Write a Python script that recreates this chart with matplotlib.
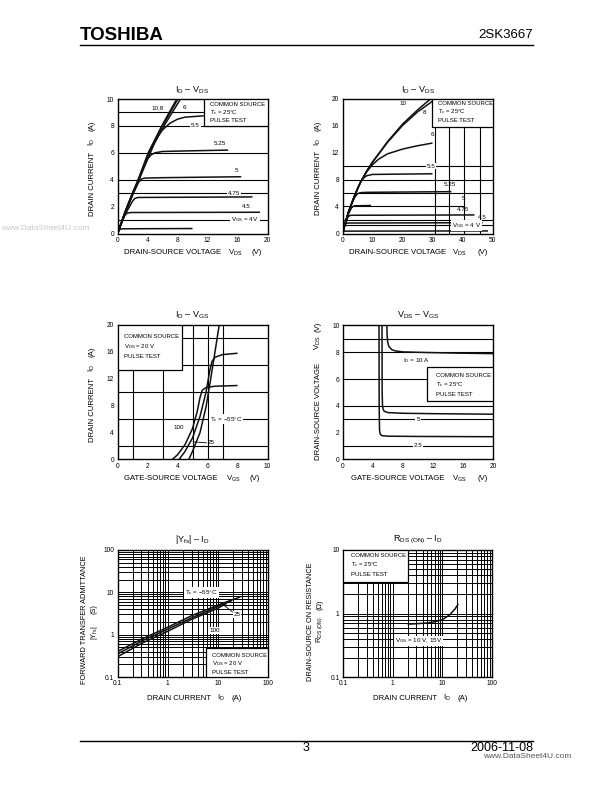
import matplotlib
matplotlib.use('Agg')
import matplotlib.pyplot as plt
from matplotlib.patches import Rectangle
from matplotlib.ticker import NullFormatter, LogLocator

plt.rcParams['font.family'] = ['Liberation Sans', 'DejaVu Sans']
plt.rcParams['mathtext.fontset'] = 'custom'
plt.rcParams['mathtext.rm'] = 'Liberation Sans'
plt.rcParams['mathtext.it'] = 'Liberation Sans:italic'
plt.rcParams['mathtext.bf'] = 'Liberation Sans:bold'

W, H = 612, 792

# ---- ID - VDS (0..20 V) ----
c1_x_10 = [0, 1, 2, 2.75, 4.1, 5.9, 7.9]
c1_y_10 = [0, 1.6, 3.0, 4.0, 6.0, 8.0, 10.0]
c1_x_8 = [0, 1, 2, 2.8, 4.15, 6.0, 8.05]
c1_y_8 = [0, 1.6, 3.0, 4.0, 6.0, 8.0, 10.0]
c1_x_6 = [0, 1, 2, 2.8, 4.2, 6.2, 8.4]
c1_y_6 = [0, 1.55, 2.95, 4.0, 6.0, 8.0, 10.0]
c1_x_55 = [0, 1, 2, 2.8, 4.3, 5.0, 5.5, 6, 7, 8, 9, 11.5]
c1_y_55 = [0, 1.5, 2.9, 3.9, 5.9, 6.8, 7.3, 7.7, 8.2, 8.5, 8.65, 8.75]
c1_x_525 = [0, 1, 2, 2.8, 3.5, 4.0, 4.5, 5.0, 6.0, 10, 14.75]
c1_y_525 = [0, 1.5, 2.9, 3.9, 5.0, 5.55, 5.85, 6.0, 6.1, 6.15, 6.2]
c1_x_5 = [0, 1, 2, 2.8, 3.2, 3.6, 6, 16.5]
c1_y_5 = [0, 1.5, 2.85, 3.8, 4.05, 4.12, 4.15, 4.22]
c1_x_475 = [0, 1, 2, 2.3, 2.7, 18]
c1_y_475 = [0, 1.4, 2.4, 2.6, 2.68, 2.72]
c1_x_45 = [0, 0.7, 1.0, 1.3, 1.8, 19]
c1_y_45 = [0, 1.05, 1.38, 1.52, 1.56, 1.58]
c1_x_4 = [0, 0.3, 0.6, 10]
c1_y_4 = [0, 0.3, 0.35, 0.37]
c1_xticks = [0, 4, 8, 12, 16, 20]
c1_yticks = [0, 2, 4, 6, 8, 10]

# ---- ID - VDS (0..50 V) ----
c2_x_10 = [0, 1, 2, 4, 6, 8, 10, 15, 20, 25, 29.5]
c2_y_10 = [0, 1.7, 3.2, 5.6, 7.6, 9.2, 10.6, 13.6, 16.2, 18.3, 20.0]
c2_x_8 = [0, 1, 2, 4, 6, 8, 10, 15, 20, 25, 30]
c2_y_8 = [0, 1.7, 3.2, 5.6, 7.6, 9.2, 10.55, 13.5, 16.0, 18.0, 19.6]
c2_x_6 = [0, 1, 2, 4, 6, 8, 10, 12, 15, 20, 25, 30]
c2_y_6 = [0, 1.7, 3.2, 5.6, 7.6, 9.1, 10.2, 11.0, 11.8, 12.5, 13.0, 13.4]
c2_x_55 = [0, 1, 2, 4, 5, 6, 7, 8, 10, 30]
c2_y_55 = [0, 1.7, 3.2, 5.5, 6.6, 7.6, 8.2, 8.55, 8.75, 8.85]
c2_x_525 = [0, 1, 2, 3, 4, 5, 6, 8, 36.3]
c2_y_525 = [0, 1.7, 3.1, 4.3, 5.3, 5.9, 6.05, 6.1, 6.2]
c2_x_5 = [0, 1, 2, 3, 3.5, 4, 9.5]
c2_y_5 = [0, 1.6, 2.9, 3.8, 4.0, 4.1, 4.15]
c2_x_475 = [0, 1, 1.8, 2.3, 3, 44]
c2_y_475 = [0, 1.5, 2.4, 2.65, 2.7, 2.75]
c2_x_45 = [0, 0.6, 1.0, 1.4, 2, 46.7]
c2_y_45 = [0, 1.0, 1.4, 1.52, 1.55, 1.6]
c2_x_4 = [0, 0.3, 0.6, 1, 48.5]
c2_y_4 = [0, 0.25, 0.33, 0.35, 0.38]
c2_xticks = [0, 10, 20, 30, 40, 50]
c2_yticks = [0, 4, 8, 12, 16, 20]

# ---- ID - VGS ----
c3_x_100 = [3.65, 4.0, 4.5, 5.0, 5.3, 5.5, 5.65, 5.9, 6.5, 8]
c3_y_100 = [0, 0.7, 2.2, 4.6, 7.0, 9.2, 10.3, 10.7, 10.9, 11.0]
c3_x_25 = [4.1, 4.5, 5.0, 5.5, 5.9, 6.15, 6.3, 6.5, 7, 8]
c3_y_25 = [0, 1.2, 3.2, 6.4, 10.0, 13.2, 14.6, 15.2, 15.6, 15.8]
c3_x_m55 = [4.75, 5.0, 5.5, 5.9, 6.2, 6.5, 6.78]
c3_y_m55 = [0, 1.2, 4.0, 7.8, 11.8, 16.0, 20.0]
c3_xticks = [0, 2, 4, 6, 8, 10]
c3_yticks = [0, 4, 8, 12, 16, 20]

# ---- VDS - VGS ----
c4_x_10 = [5.85, 5.88, 5.95, 6.1, 6.5, 7, 8, 10, 14, 20]
c4_y_10 = [10, 9.3, 8.8, 8.45, 8.2, 8.1, 8.03, 8.0, 7.95, 7.9]
c4_x_5 = [5.2, 5.22, 5.27, 5.35, 5.5, 6, 8, 12, 20]
c4_y_5 = [10, 5.0, 4.0, 3.75, 3.6, 3.5, 3.45, 3.42, 3.38]
c4_x_25 = [4.8, 4.82, 4.87, 4.95, 5.2, 6, 10, 20]
c4_y_25 = [10, 4.0, 2.2, 1.9, 1.78, 1.74, 1.72, 1.7]
c4_xticks = [0, 4, 8, 12, 16, 20]
c4_yticks = [0, 2, 4, 6, 8, 10]

# ---- |Yfs| - ID ----
c5_x_m55 = [0.1, 0.3, 1, 3, 10, 28]
c5_y_m55 = [0.40, 0.78, 1.5, 2.8, 5.0, 7.8]
c5_x_25 = [0.1, 0.3, 1, 3, 10, 19]
c5_y_25 = [0.35, 0.70, 1.35, 2.5, 4.6, 6.4]
c5_x_100 = [0.1, 0.3, 1, 3, 10, 15]
c5_y_100 = [0.30, 0.62, 1.2, 2.3, 4.2, 5.5]
log_xticks = [0.1, 1, 10, 100]
log_xlabels = ['0.1', '1', '10', '100']
c5_yticks = [0.1, 1, 10, 100]
c5_ylabels = ['0.1', '1', '10', '100']

# ---- RDS(ON) - ID ----
c6_x = [2, 3, 5, 7, 10, 14, 18, 21]
c6_y = [0.68, 0.69, 0.71, 0.74, 0.80, 0.95, 1.18, 1.42]
c6_yticks = [0.1, 1, 10]
c6_ylabels = ['0.1', '1', '10']

fig = plt.figure(figsize=(W / 100, H / 100), dpi=100)
fig.patch.set_facecolor('white')


def px_axes(l, t, r, b):
    return fig.add_axes([l / W, 1 - b / H, (r - l) / W, (b - t) / H])


def ftext(x, y, s, **kw):
    fig.text(x / W, 1 - y / H, s, **kw)


def style(ax, xt, yt, xlab=None, ylab=None):
    for sp in ax.spines.values():
        sp.set_linewidth(1.0)
    ax.set_xticks(xt)
    ax.set_yticks(yt)
    if xlab:
        ax.set_xticklabels(xlab)
    if ylab:
        ax.set_yticklabels(ylab)
    ax.tick_params(which='both', length=0, labelsize=4.8, pad=2.5)


def curve(ax, x, y, c='#111111'):
    ax.plot(x, y, color=c, lw=1.1, zorder=2, solid_capstyle='butt')


def hgrid(ax, ys, x0=None, x1=None):
    lo, hi = ax.get_xlim()
    for y in ys:
        ax.plot([lo if x0 is None else x0, hi if x1 is None else x1], [y, y],
                color='black', lw=0.8, zorder=1)


def vgrid(ax, xs, y0=None, y1=None):
    lo, hi = ax.get_ylim()
    for x in xs:
        ax.plot([x, x], [lo if y0 is None else y0, hi if y1 is None else y1],
                color='black', lw=0.8, zorder=1)


def box(ax, x0, y0, x1, y1, lines, tx, tys):
    ax.add_patch(Rectangle((x0, y0), x1 - x0, y1 - y0, facecolor='white',
                           edgecolor='black', lw=0.9, zorder=3))
    for s, ty in zip(lines, tys):
        ax.text(tx, ty, s, fontsize=4.3, va='center', ha='left', zorder=4)


WB = dict(facecolor='white', edgecolor='none', pad=0.6)


def lab(ax, x, y, s, bg=False, **kw):
    ax.text(x, y, s, fontsize=4.5, ha='center', va='center', zorder=5,
            bbox=WB if bg else None, **kw)


LFS = 5.6


def xlabel_parts(parts, y):
    for x, s in parts:
        ftext(x, y, s, fontsize=LFS, ha='left', va='center')


def ylabel_parts(parts, x, fs=LFS):
    for y, s in parts:
        fig.text(x / W, 1 - y / H, s, fontsize=fs, ha='left', va='center',
                 rotation=90, rotation_mode='anchor')


# ===== chart 1 =====
ax1 = px_axes(117.5, 99, 267.5, 233.5)
ax1.set_xlim(0, 20)
ax1.set_ylim(0, 10)
style(ax1, c1_xticks, c1_yticks)
hgrid(ax1, [1, 3, 4, 6, 8, 9])
for x, y in [(c1_x_10, c1_y_10), (c1_x_8, c1_y_8), (c1_x_6, c1_y_6),
             (c1_x_55, c1_y_55), (c1_x_525, c1_y_525), (c1_x_5, c1_y_5),
             (c1_x_475, c1_y_475), (c1_x_45, c1_y_45), (c1_x_4, c1_y_4)]:
    curve(ax1, x, y)
box(ax1, 11.5, 8.0, 20, 10, ['COMMON SOURCE', 'T$_{\\rm c}$ = 25°C', 'PULSE TEST'],
    12.4, [9.6, 8.98, 8.38])
lab(ax1, 5.3, 9.35, '10,8')
lab(ax1, 8.9, 9.35, '6')
lab(ax1, 10.4, 8.0, '5.5', bg=True)
lab(ax1, 13.6, 6.7, '5.25')
lab(ax1, 15.8, 4.7, '5')
lab(ax1, 15.5, 3.0, '4.75', bg=True)
lab(ax1, 17.2, 2.0, '4.5')
lab(ax1, 17.0, 1.0, 'V$_{\\rm GS}$ = 4V', bg=True)

# ===== chart 2 =====
ax2 = px_axes(342.5, 98.5, 492.5, 233.5)
ax2.set_xlim(0, 50)
ax2.set_ylim(0, 20)
style(ax2, c2_xticks, c2_yticks)
hgrid(ax2, [1.2, 2, 6, 8, 10])
hgrid(ax2, [4.1], x1=40.5)
vgrid(ax2, [30.8, 35.5, 40.5, 45.7])
for x, y in [(c2_x_10, c2_y_10), (c2_x_8, c2_y_8), (c2_x_6, c2_y_6),
             (c2_x_55, c2_y_55), (c2_x_525, c2_y_525), (c2_x_5, c2_y_5),
             (c2_x_475, c2_y_475), (c2_x_45, c2_y_45), (c2_x_4, c2_y_4)]:
    curve(ax2, x, y)
box(ax2, 29.7, 15.85, 50, 20, ['COMMON SOURCE', 'T$_{\\rm c}$ = 25°C', 'PULSE TEST'],
    31.7, [19.2, 18.0, 16.7])
lab(ax2, 20.2, 19.2, '10')
lab(ax2, 27.4, 18.0, '8')
lab(ax2, 30.0, 14.7, '6')
lab(ax2, 29.4, 10.0, '5.5', bg=True)
lab(ax2, 35.8, 7.2, '5.25')
lab(ax2, 40.4, 5.2, '5')
lab(ax2, 40.2, 3.6, '4.75')
lab(ax2, 46.7, 2.3, '4.5')
lab(ax2, 41.3, 1.2, 'V$_{\\rm GS}$ = 4 V', bg=True)

# ===== chart 3 =====
ax3 = px_axes(117.5, 325, 267.5, 459.5)
ax3.set_xlim(0, 10)
ax3.set_ylim(0, 20)
style(ax3, c3_xticks, c3_yticks)
hgrid(ax3, [2, 6, 10, 14, 18])
vgrid(ax3, [1, 3, 5, 6, 7])
for x, y in [(c3_x_100, c3_y_100), (c3_x_25, c3_y_25), (c3_x_m55, c3_y_m55)]:
    curve(ax3, x, y)
box(ax3, 0, 13.3, 4.27, 20, ['COMMON SOURCE', 'V$_{\\rm DS}$ = 20 V', 'PULSE TEST'],
    0.45, [18.3, 16.8, 15.3])
lab(ax3, 4.05, 4.7, '100')
lab(ax3, 6.25, 2.6, '25')
ax3.plot([5.04, 5.93], [2.63, 2.48], color='black', lw=0.6, zorder=2)
lab(ax3, 7.25, 6.0, 'T$_{\\rm c}$ = −55°C', bg=True)

# ===== chart 4 =====
ax4 = px_axes(343, 325.5, 493, 459.5)
ax4.set_xlim(0, 20)
ax4.set_ylim(0, 10)
style(ax4, c4_xticks, c4_yticks)
hgrid(ax4, [1, 3, 4, 6, 8, 9])
for x, y in [(c4_x_10, c4_y_10), (c4_x_5, c4_y_5), (c4_x_25, c4_y_25)]:
    curve(ax4, x, y)
box(ax4, 11.25, 4.37, 20, 6.9, ['COMMON SOURCE', 'T$_{\\rm c}$ = 25°C', 'PULSE TEST'],
    12.44, [6.26, 5.56, 4.86])
lab(ax4, 9.8, 7.35, 'I$_{\\rm D}$ = 10 A')
lab(ax4, 10.0, 3.0, '5', bg=True)
lab(ax4, 10.0, 1.05, '2.5', bg=True)

# ===== chart 5 =====
ax5 = px_axes(117.5, 550, 268, 677)
ax5.set_xscale('log')
ax5.set_yscale('log')
ax5.set_xlim(0.1, 100)
ax5.set_ylim(0.1, 100)
style(ax5, log_xticks, c5_yticks, log_xlabels, c5_ylabels)
ax5.xaxis.set_minor_locator(LogLocator(base=10, subs=range(2, 10)))
ax5.yaxis.set_minor_locator(LogLocator(base=10, subs=range(2, 10)))
ax5.xaxis.set_minor_formatter(NullFormatter())
ax5.yaxis.set_minor_formatter(NullFormatter())
ax5.grid(which='both', color='black', lw=0.7)
ax5.set_axisbelow(True)
for x, y in [(c5_x_m55, c5_y_m55), (c5_x_25, c5_y_25), (c5_x_100, c5_y_100)]:
    curve(ax5, x, y)
box(ax5, 5.7, 0.1, 100, 0.48, ['COMMON SOURCE', 'V$_{\\rm DS}$ = 20 V', 'PULSE TEST'],
    7.7, [0.33, 0.205, 0.125])
lab(ax5, 4.7, 9.8, 'T$_{\\rm c}$ = −55°C', bg=True)
lab(ax5, 24, 2.95, '25', bg=True)
ax5.plot([12.6, 19.5], [5.2, 3.45], color='black', lw=0.6, zorder=2)
lab(ax5, 8.6, 1.25, '100', bg=True)

# ===== chart 6 =====
ax6 = px_axes(343, 550, 492, 677)
ax6.set_xscale('log')
ax6.set_yscale('log')
ax6.set_xlim(0.1, 100)
ax6.set_ylim(0.1, 10)
style(ax6, log_xticks, c6_yticks, log_xlabels, c6_ylabels)
ax6.xaxis.set_minor_locator(LogLocator(base=10, subs=range(2, 10)))
ax6.yaxis.set_minor_locator(LogLocator(base=10, subs=range(2, 10)))
ax6.xaxis.set_minor_formatter(NullFormatter())
ax6.yaxis.set_minor_formatter(NullFormatter())
ax6.grid(which='both', color='black', lw=0.7)
ax6.set_axisbelow(True)
curve(ax6, c6_x, c6_y)
box(ax6, 0.1, 3.08, 2.05, 10, ['COMMON SOURCE', 'T$_{\\rm c}$ = 25°C', 'PULSE TEST'],
    0.148, [8.3, 5.8, 4.15])
lab(ax6, 3.3, 0.37, 'V$_{\\rm GS}$ = 10 V, 15V', bg=True)

# ===== titles =====
tkw = dict(fontsize=6.5, ha='center', va='center')
ftext(192, 90, 'I$_{\\rm D}$ – V$_{\\rm DS}$', **tkw)
ftext(418, 90, 'I$_{\\rm D}$ – V$_{\\rm DS}$', **tkw)
ftext(192, 315, 'I$_{\\rm D}$ – V$_{\\rm GS}$', **tkw)
ftext(418, 315, 'V$_{\\rm DS}$ – V$_{\\rm GS}$', **tkw)
ftext(192, 540, '|Y$_{\\rm fs}$| – I$_{\\rm D}$', **tkw)
ftext(418, 540, 'R$_{\\rm DS\\ (ON)}$ – I$_{\\rm D}$', **tkw)

# ===== axis labels =====
xlabel_parts([(124, 'DRAIN-SOURCE VOLTAGE'), (228, 'V$_{\\rm DS}$'), (252, '(V)')], 253)
xlabel_parts([(349, 'DRAIN-SOURCE VOLTAGE'), (452, 'V$_{\\rm DS}$'), (477, '(V)')], 253)
xlabel_parts([(124, 'GATE-SOURCE VOLTAGE'), (226, 'V$_{\\rm GS}$'), (250, '(V)')], 479)
xlabel_parts([(351, 'GATE-SOURCE VOLTAGE'), (452, 'V$_{\\rm GS}$'), (477, '(V)')], 479)
xlabel_parts([(147, 'DRAIN CURRENT'), (217, 'I$_{\\rm D}$'), (232, '(A)')], 698)
xlabel_parts([(373, 'DRAIN CURRENT'), (443, 'I$_{\\rm D}$'), (458, '(A)')], 698)

ylabel_parts([(216, 'DRAIN CURRENT'), (146, 'I$_{\\rm D}$'), (131, '(A)')], 92)
ylabel_parts([(215, 'DRAIN CURRENT'), (146, 'I$_{\\rm D}$'), (131, '(A)')], 318)
ylabel_parts([(442, 'DRAIN CURRENT'), (372, 'I$_{\\rm D}$'), (357, '(A)')], 92)
ylabel_parts([(460, 'DRAIN-SOURCE VOLTAGE'), (350, 'V$_{\\rm DS}$'), (332, '(V)')], 318)
ylabel_parts([(684, 'FORWARD TRANSFER ADMITTANCE')], 84, fs=5.3)
ylabel_parts([(640, '|Y$_{\\rm fs}$|'), (614, '(S)')], 94, fs=5.3)
ylabel_parts([(681, 'DRAIN-SOURCE ON RESISTANCE')], 310, fs=5.3)
ylabel_parts([(643, 'R$_{\\rm DS\\ (ON)}$'), (610, '(Ω)')], 320, fs=5.3)

# ===== page header / footer =====
ftext(80, 36, 'TOSHIBA', fontsize=13.5, fontweight='black', ha='left', va='center')
ftext(533, 35, '2SK3667', fontsize=9.5, ha='right', va='center')
fig.add_artist(plt.Line2D([80 / W, 533 / W], [1 - 45 / H, 1 - 45 / H], color='black', lw=1.0))
fig.add_artist(plt.Line2D([80 / W, 533 / W], [1 - 741 / H, 1 - 741 / H], color='black', lw=1.0))
ftext(306, 748, '3', fontsize=9, ha='center', va='center')
ftext(533, 748, '2006-11-08', fontsize=9, ha='right', va='center')
ftext(483, 757, 'www.DataSheet4U.com', fontsize=6, ha='left', va='center', color='#555555')
ftext(1, 229, 'www.DataSheet4U.com', fontsize=6, ha='left', va='center', color='#c8c8c8')

fig.savefig('out.png', dpi=100, facecolor='white')
